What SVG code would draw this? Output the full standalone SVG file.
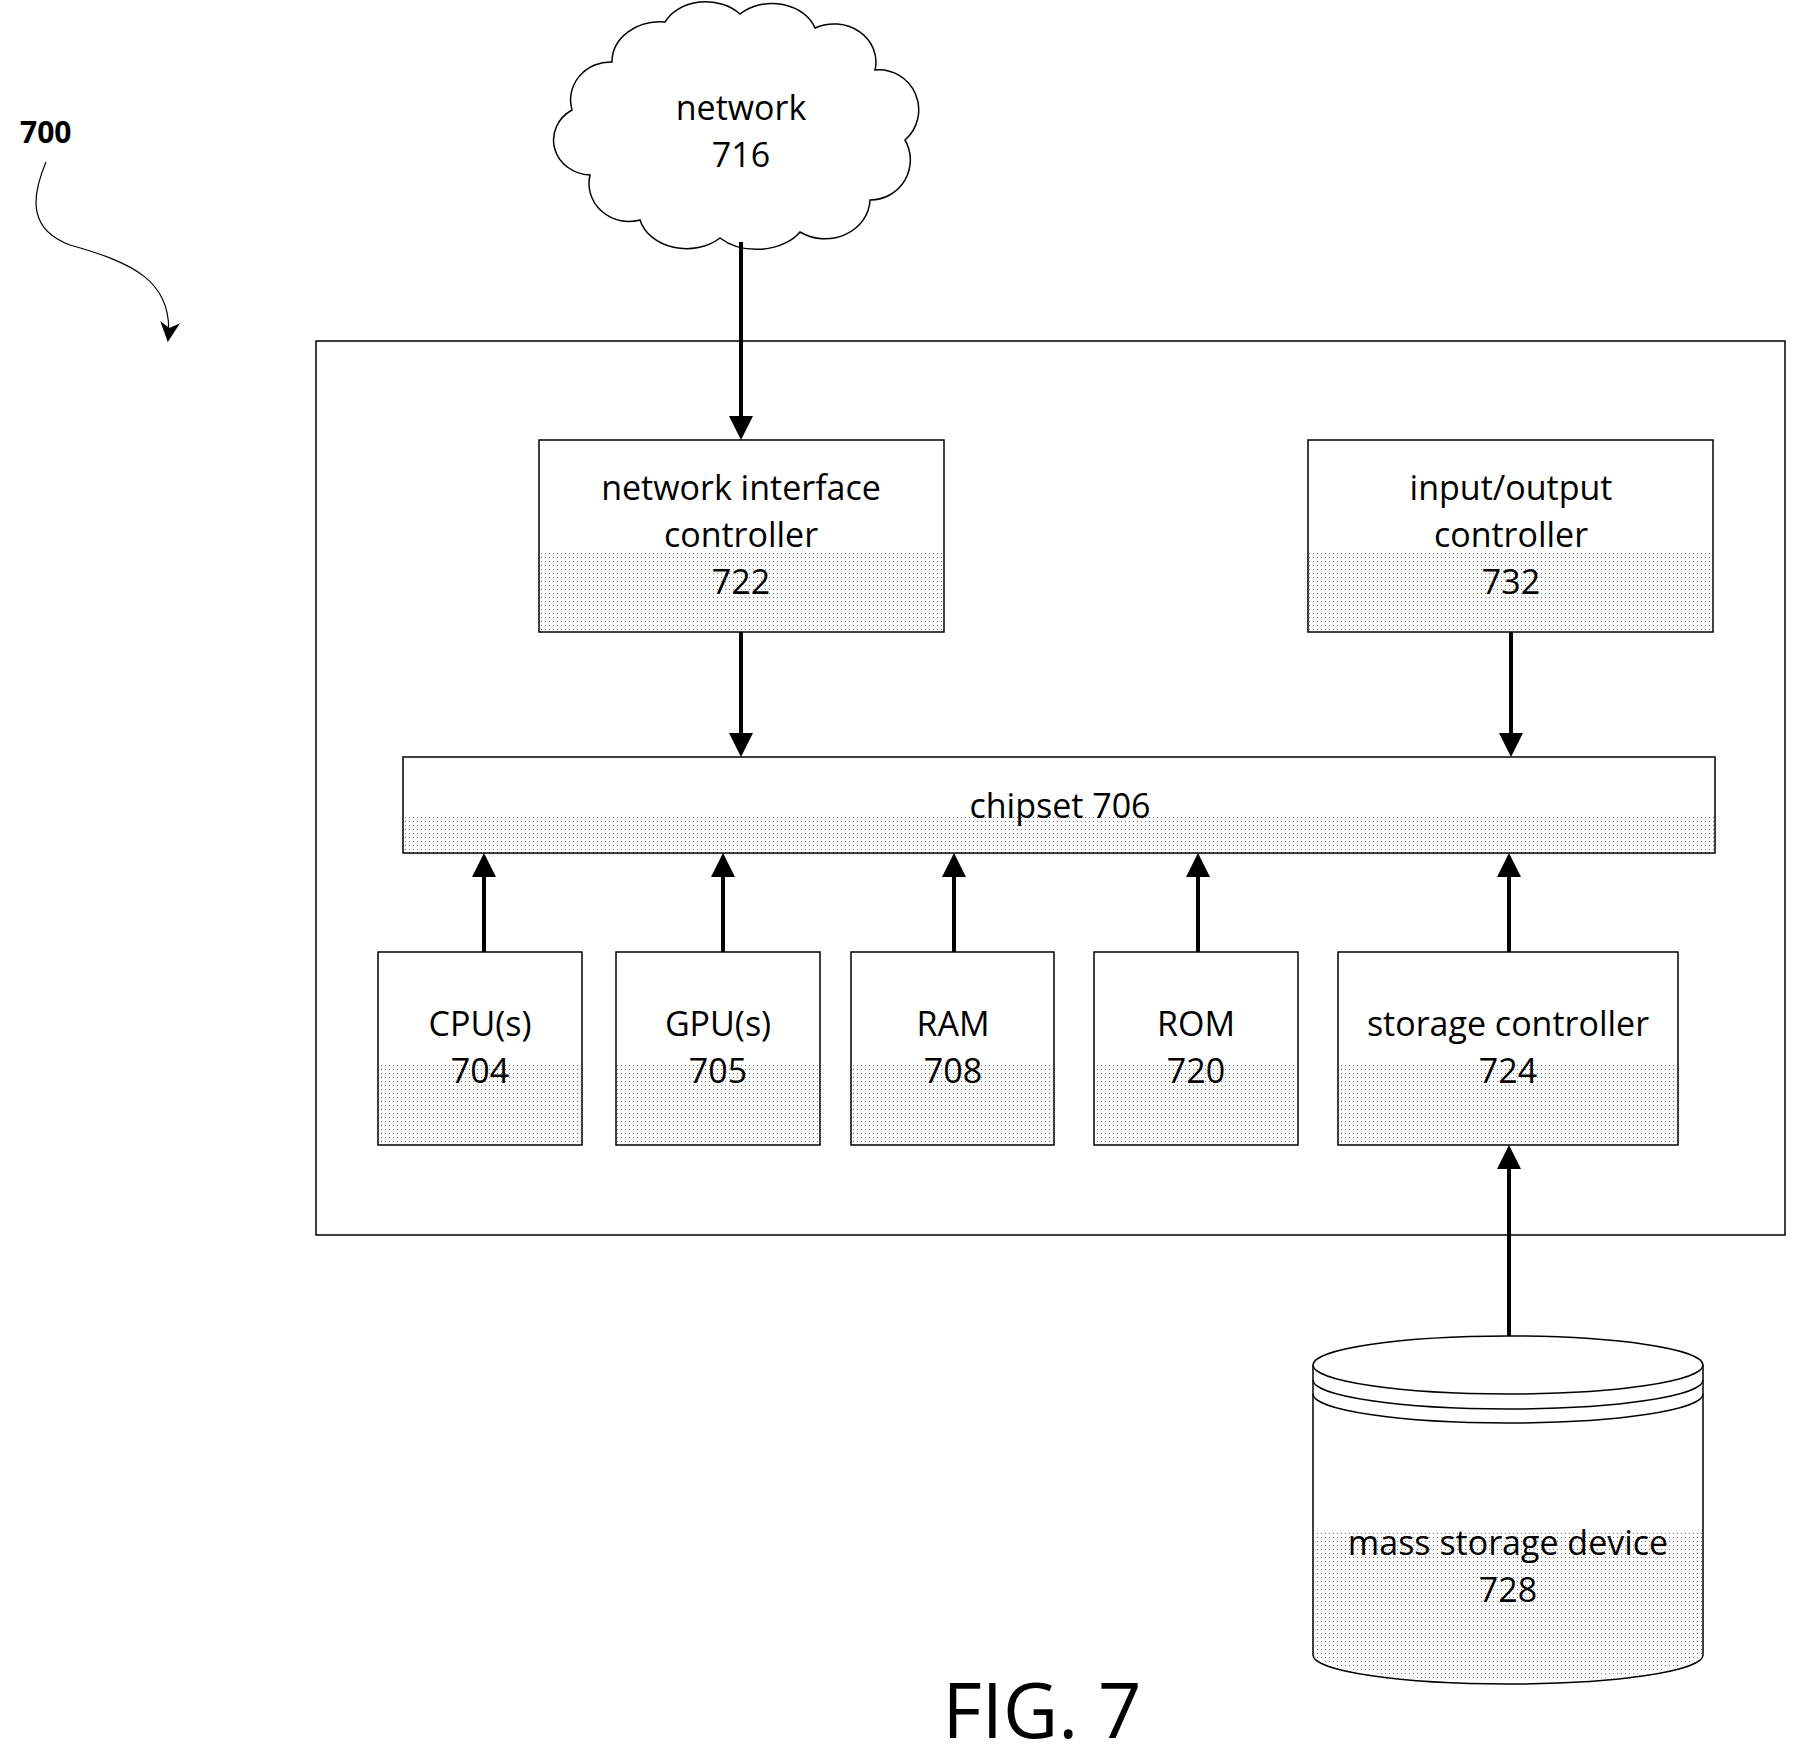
<svg xmlns="http://www.w3.org/2000/svg" width="1799" height="1762" viewBox="0 0 1799 1762">
<style>
.b{fill:#fff;stroke:#000;stroke-width:1.5}
.d{fill:url(#dots);stroke:none}
.t{font-family:"Open Sans","Liberation Sans",sans-serif;font-size:34px;text-anchor:middle;fill:#000}
.c{stroke:#000;stroke-width:4;fill:none;marker-end:url(#ah)}
</style>
<defs>
<pattern id="dots" width="4" height="4" patternUnits="userSpaceOnUse"><rect x="1" y="1" width="1" height="1" fill="#777"/></pattern>
<marker id="ah" markerWidth="6" markerHeight="6" refX="5" refY="3" orient="auto" markerUnits="strokeWidth"><path d="M0,0 L6,3 L0,6 z" fill="#000"/></marker>
<marker id="ah2" markerWidth="24" markerHeight="24" refX="18" refY="12" orient="auto" markerUnits="userSpaceOnUse"><path d="M0,2 L20,12 L0,22 L6,12 z" fill="#000"/></marker>
</defs>
<rect width="1799" height="1762" fill="#fff"/>
<g id="label700">
<text x="20" y="143" font-family="Open Sans, Liberation Sans, sans-serif" font-size="30" font-weight="bold">700</text>
<path d="M46,162 C30,200 30,230 70,245 C130,262 175,280 168,340" fill="none" stroke="#000" stroke-width="1.2" marker-end="url(#ah2)"/>
</g>
<g id="outer"><rect x="316" y="341" width="1469" height="894" class="b"/></g>
<g id="network">
<path d="M612,62 A48,40 0 0 1 665,22 A45,35 0 0 1 740,14 A45,35 0 0 1 815,28 A42,38 0 0 1 875,70 A40,40 0 0 1 905,140 A40,40 0 0 1 870,200 A45,40 0 0 1 800,232 A50,35 0 0 1 720,238 A48,38 0 0 1 640,220 A40,38 0 0 1 590,175 A38,35 0 0 1 572,110 A40,38 0 0 1 612,62 Z" class="b"/>
<text x="741" y="120" class="t">network</text>
<text x="741" y="167" class="t">716</text>
</g>
<g id="nic"><rect x="539" y="440" width="405" height="192" class="b"/><rect x="540" y="550" width="403" height="81" class="d"/>
<text x="741" y="500" class="t">network interface</text><text x="741" y="547" class="t">controller</text><text x="741" y="594" class="t">722</text></g>
<g id="io"><rect x="1308" y="440" width="405" height="192" class="b"/><rect x="1309" y="550" width="403" height="81" class="d"/>
<text x="1511" y="500" class="t">input/output</text><text x="1511" y="547" class="t">controller</text><text x="1511" y="594" class="t">732</text></g>
<g id="chipset"><rect x="403" y="757" width="1312" height="96" class="b"/><rect x="404" y="815" width="1310" height="37" class="d"/>
<text x="1060" y="818" class="t">chipset 706</text></g>
<g id="cpu"><rect x="378" y="952" width="204" height="193" class="b"/><rect x="379" y="1065" width="202" height="79" class="d"/>
<text x="480" y="1036" class="t">CPU(s)</text><text x="480" y="1083" class="t">704</text></g>
<g id="gpu"><rect x="616" y="952" width="204" height="193" class="b"/><rect x="617" y="1065" width="202" height="79" class="d"/>
<text x="718" y="1036" class="t">GPU(s)</text><text x="718" y="1083" class="t">705</text></g>
<g id="ram"><rect x="851" y="952" width="203" height="193" class="b"/><rect x="852" y="1065" width="201" height="79" class="d"/>
<text x="953" y="1036" class="t">RAM</text><text x="953" y="1083" class="t">708</text></g>
<g id="rom"><rect x="1094" y="952" width="204" height="193" class="b"/><rect x="1095" y="1065" width="202" height="79" class="d"/>
<text x="1196" y="1036" class="t">ROM</text><text x="1196" y="1083" class="t">720</text></g>
<g id="storage"><rect x="1338" y="952" width="340" height="193" class="b"/><rect x="1339" y="1065" width="338" height="79" class="d"/>
<text x="1508" y="1036" class="t">storage controller</text><text x="1508" y="1083" class="t">724</text></g>
<g id="mass">
<path d="M1313,1365 L1313,1655 A195,29 0 0 0 1703,1655 L1703,1365" class="b"/>
<path d="M1314,1532 L1702,1532 L1702,1655 A195,29 0 0 1 1314,1655 Z" class="d"/>
<ellipse cx="1508" cy="1365" rx="195" ry="29" class="b"/>
<path d="M1313,1380 A195,29 0 0 0 1703,1380 M1313,1394 A195,29 0 0 0 1703,1394" fill="none" stroke="#000" stroke-width="1.5"/>
<text x="1508" y="1555" class="t">mass storage device</text><text x="1508" y="1602" class="t">728</text>
</g>
<g id="connectors">
<line x1="741" y1="242" x2="741" y2="436" class="c"/>
<line x1="741" y1="632" x2="741" y2="753" class="c"/>
<line x1="1511" y1="632" x2="1511" y2="753" class="c"/>
<line x1="484" y1="952" x2="484" y2="857" class="c"/>
<line x1="723" y1="952" x2="723" y2="857" class="c"/>
<line x1="954" y1="952" x2="954" y2="857" class="c"/>
<line x1="1198" y1="952" x2="1198" y2="857" class="c"/>
<line x1="1509" y1="952" x2="1509" y2="857" class="c"/>
<line x1="1509" y1="1336" x2="1509" y2="1149" class="c"/>
</g>
<text x="1042" y="1738" font-family="Open Sans, Liberation Sans, sans-serif" font-size="76" text-anchor="middle">FIG. 7</text>
</svg>
